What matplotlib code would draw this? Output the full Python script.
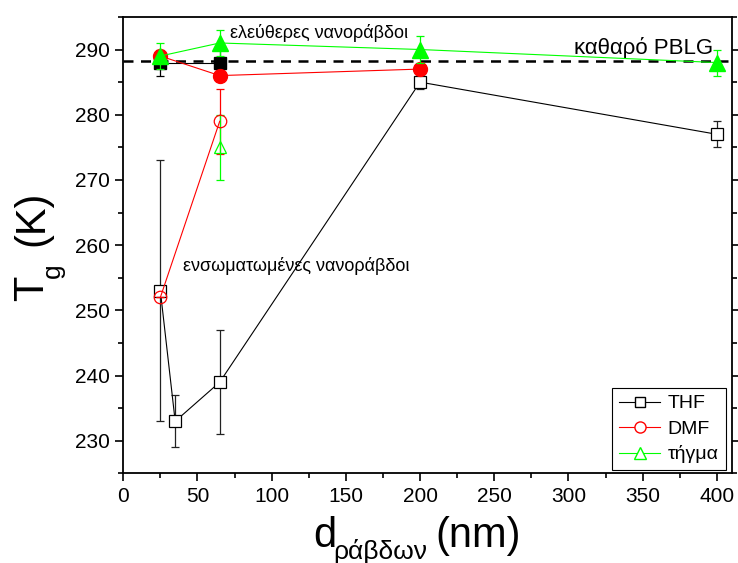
import matplotlib
matplotlib.use('Agg')
import matplotlib.pyplot as plt
from matplotlib.lines import Line2D
from matplotlib.ticker import MultipleLocator

plt.rcParams['font.family'] = ['Liberation Sans', 'DejaVu Sans']

# embedded nanorods (open symbols)
thf_x = [25, 35, 65, 200, 400]
thf_y = [253, 233, 239, 285, 277]
thf_err = [20, 4, 8, 1, 2]

dmf_x = [25, 65]
dmf_y = [252, 279]
dmf_err = [0, 5]

melt_x = [65]
melt_y = [275]
melt_err = [5]

# free nanorods (filled symbols)
thf_free_x = [25, 65]
thf_free_y = [288, 288]
thf_free_err = [2, 2]

dmf_free_x = [25, 65, 200]
dmf_free_y = [289, 286, 287]

melt_free_x = [25, 65, 200, 400]
melt_free_y = [289, 291, 290, 288]
melt_free_err = [2, 2, 2, 2]

pure_pblg = 288.2

GREEN = '#00ff00'
RED = '#ff0000'

W, H = 738, 563
fig = plt.figure(figsize=(W / 100, H / 100), dpi=100)
ax = fig.add_axes([0.167, 0.159, 0.8245, 0.811])

ax.axhline(pure_pblg, color='black', lw=1.8, ls=(0, (4, 3)), zorder=1)

eb = dict(capsize=3, elinewidth=0.9, capthick=0.9, lw=0.8)

# open symbols
ax.errorbar(thf_x, thf_y, yerr=thf_err, fmt='s-', color='black', mfc='white',
            mec='black', ms=8, mew=0.9, ecolor='#222222', zorder=3, **eb)
ax.errorbar(dmf_x, dmf_y, yerr=dmf_err, fmt='o-', color=RED, mfc='none',
            mec=RED, ms=9, mew=0.9, ecolor=RED, zorder=4, **eb)
ax.errorbar(melt_x, melt_y, yerr=melt_err, fmt='^-', color=GREEN, mfc='none',
            mec=GREEN, ms=9, mew=0.9, ecolor=GREEN, zorder=4, **eb)

# filled symbols
ax.errorbar(thf_free_x, thf_free_y, yerr=thf_free_err, fmt='s-', color='black',
            ms=9, ecolor='black', zorder=5, **eb)
ax.plot(dmf_free_x, dmf_free_y, 'o-', color=RED, ms=10, lw=0.8, zorder=6)
ax.errorbar(melt_free_x, melt_free_y, yerr=melt_free_err, fmt='^-', color=GREEN,
            ms=11, ecolor=GREEN, zorder=7, **eb)

ax.text(72, 292.6, 'ελεύθερες νανοράβδοι', fontsize=13, va='center')
ax.text(304, 290.3, 'καθαρό PBLG', fontsize=16, va='center')
ax.text(40, 256.8, 'ενσωματωμένες νανοράβδοι', fontsize=13, va='center')

ax.set_xlim(0, 410)
ax.set_ylim(225, 295)
ax.xaxis.set_major_locator(MultipleLocator(50))
ax.xaxis.set_minor_locator(MultipleLocator(25))
ax.yaxis.set_major_locator(MultipleLocator(10))
ax.yaxis.set_minor_locator(MultipleLocator(5))
ax.tick_params(which='major', direction='out', length=6, width=1.2, labelsize=15)
ax.tick_params(which='minor', direction='out', length=3.5, width=1.2)
ax.tick_params(axis='y', which='both', right=True)
for s in ax.spines.values():
    s.set_linewidth(1.3)

# axis titles with small, low subscripts (pixel anchors)
def ftext(px, py, s, size, rot=0):
    fig.text(px / W, 1 - py / H, s, fontsize=size, rotation=rot,
             ha='left', va='baseline', rotation_mode='anchor')

ftext(313, 547, 'd', 30)
ftext(333, 559, 'ράβδων', 19)
ftext(435, 547, '(nm)', 30)

ftext(43, 301, 'T', 30, rot=90)
ftext(60, 278, 'g', 19, rot=90)
ftext(43, 246, '(K)', 30, rot=90)

handles = [
    Line2D([], [], color='black', marker='s', mfc='white', mec='black', ms=7, lw=0.8),
    Line2D([], [], color=RED, marker='o', mfc='white', mec=RED, ms=8, lw=0.8),
    Line2D([], [], color=GREEN, marker='^', mfc='white', mec=GREEN, ms=8, lw=0.8),
]
leg = ax.legend(handles, ['THF', 'DMF', 'τήγμα'], loc='lower right',
                bbox_to_anchor=(0.99, 0.007), borderaxespad=0, fontsize=14,
                fancybox=False, edgecolor='black', framealpha=1,
                handlelength=2.1, labelspacing=0.4, borderpad=0.35,
                handletextpad=0.4, numpoints=1)
leg.get_frame().set_linewidth(0.8)

fig.savefig('out.png', dpi=100)
